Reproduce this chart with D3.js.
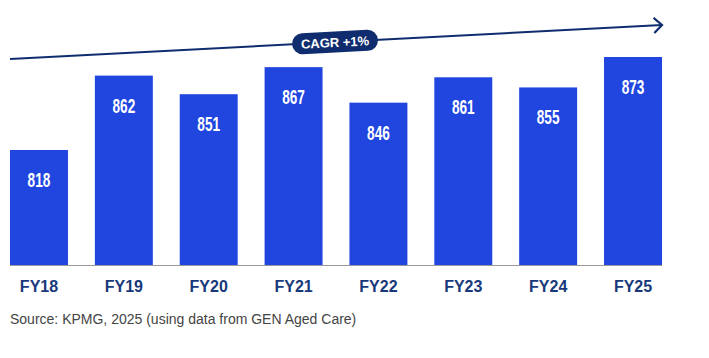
<!DOCTYPE html>
<html>
<head>
<meta charset="utf-8">
<script src="https://cdn.jsdelivr.net/npm/d3@7"></script>
<style>
  html, body { margin: 0; padding: 0; background: #fff; }
  svg { display: block; }
</style>
</head>
<body>
<svg id="chart" width="709" height="358"></svg>
<script>
const categories = ["FY18", "FY19", "FY20", "FY21", "FY22", "FY23", "FY24", "FY25"];
const values = [818, 862, 851, 867, 846, 861, 855, 873];
const cagrLabel = "CAGR +1%";
const sourceText = "Source: KPMG, 2025 (using data from GEN Aged Care)";

const svg = d3.select("#chart");
const barColor = "#2046DF";
const navy = "#0F2D6E";
const labelNavy = "#17397A";

const x = d3.scaleBand().domain(categories).range([10, 662]).paddingInner(0.317).paddingOuter(0);
const y = d3.scaleLinear().domain([750, 873]).range([265, 57]);

// bars
svg.append("g").selectAll("rect").data(values).join("rect")
  .attr("x", (d, i) => x(categories[i]))
  .attr("y", d => y(d))
  .attr("width", x.bandwidth())
  .attr("height", d => y(750) - y(d))
  .attr("fill", barColor);

// baseline
svg.append("line")
  .attr("x1", 10).attr("x2", 662)
  .attr("y1", y(750) + 0.5).attr("y2", y(750) + 0.5)
  .attr("stroke", "#9a9a9a").attr("stroke-width", 1);

// value labels (condensed via horizontal scale)
svg.append("g").selectAll("text").data(values).join("text")
  .attr("transform", (d, i) => `translate(${x(categories[i]) + x.bandwidth() / 2},${y(d) + 37}) scale(0.7,1)`)
  .attr("text-anchor", "middle")
  .attr("fill", "#fff")
  .attr("font-family", "'Liberation Sans', Arial, sans-serif")
  .attr("font-weight", "bold")
  .attr("font-size", 19.5)
  .text(d => d);

// category axis
const xAxis = d3.axisBottom(x).tickSize(0).tickPadding(0);
const ax = svg.append("g").attr("transform", "translate(0,280)").call(xAxis);
ax.select(".domain").remove();
ax.selectAll("text")
  .attr("dy", 0).attr("y", 12)
  .attr("fill", labelNavy)
  .attr("font-family", "'Liberation Sans', Arial, sans-serif")
  .attr("font-weight", "bold")
  .attr("font-size", 16);

// CAGR arrow
const x0 = 10, y0 = 59, x1 = 662, y1 = 25;
svg.append("line")
  .attr("x1", x0).attr("y1", y0).attr("x2", x1).attr("y2", y1)
  .attr("stroke", navy).attr("stroke-width", 2);
const ang = Math.atan2(y1 - y0, x1 - x0);
const ah = 11, aw = 0.75;
svg.append("path")
  .attr("d", `M${x1 - ah * Math.cos(ang - aw)},${y1 - ah * Math.sin(ang - aw)} L${x1},${y1} L${x1 - ah * Math.cos(ang + aw)},${y1 - ah * Math.sin(ang + aw)}`)
  .attr("fill", "none").attr("stroke", navy).attr("stroke-width", 2.2)
  .attr("stroke-linejoin", "miter");

// CAGR pill
const cx = 335, cy = y0 + (y1 - y0) * (cx - x0) / (x1 - x0);
const pill = svg.append("g")
  .attr("transform", `translate(${cx},${cy}) rotate(${ang * 180 / Math.PI})`);
pill.append("rect")
  .attr("x", -43).attr("y", -10.5).attr("width", 86).attr("height", 21)
  .attr("rx", 10.5).attr("fill", navy);
pill.append("text")
  .attr("x", 0).attr("y", 5)
  .attr("text-anchor", "middle")
  .attr("fill", "#fff")
  .attr("font-family", "'Liberation Sans', Arial, sans-serif")
  .attr("font-weight", "bold")
  .attr("font-size", 13)
  .text(cagrLabel);

// source
svg.append("text")
  .attr("x", 10).attr("y", 324)
  .attr("fill", "#444")
  .attr("font-family", "'Liberation Sans', Arial, sans-serif")
  .attr("font-size", 14)
  .text(sourceText);
</script>
</body>
</html>
